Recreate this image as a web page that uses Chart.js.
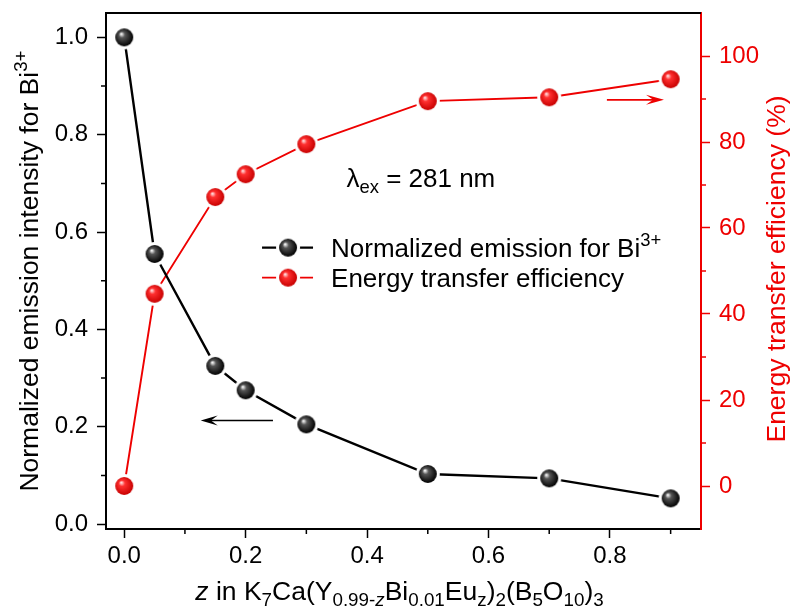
<!DOCTYPE html>
<html>
<head>
<meta charset="utf-8">
<script src="https://cdn.jsdelivr.net/npm/chart.js@4.4.1/dist/chart.umd.min.js"></script>
<style>
  html, body { margin: 0; padding: 0; background: #fff; }
</style>
</head>
<body>
<canvas id="chart" width="797" height="610"></canvas>
<script>
// Eu3+ content z and the two measured series
const zValues = [0, 0.05, 0.15, 0.2, 0.3, 0.5, 0.7, 0.9];
const biEmission = [1.0, 0.555, 0.325, 0.275, 0.205, 0.103, 0.094, 0.053];
const transferEff = [0, 44.7, 67.2, 72.5, 79.5, 89.5, 90.4, 94.6];

const xTicks = [0, 0.2, 0.4, 0.6, 0.8];
const xMinor = [0.1, 0.3, 0.5, 0.7, 0.9];
const leftTicks = [0, 0.2, 0.4, 0.6, 0.8, 1.0];
const leftMinor = [0.1, 0.3, 0.5, 0.7, 0.9];
const rightTicks = [0, 20, 40, 60, 80, 100];
const rightMinor = [10, 30, 50, 70, 90];

const RED = '#ee0000';
const FONT = '"Liberation Sans", Arial, sans-serif';

// shaded ball markers with a white halo so the lines stop short of them
function ball(light, mid, dark) {
  const c = document.createElement('canvas');
  c.width = c.height = 26;
  const g = c.getContext('2d');
  g.fillStyle = '#fff';
  g.beginPath(); g.arc(13, 13, 12, 0, Math.PI * 2); g.fill();
  const grad = g.createRadialGradient(10, 9.5, 0.3, 12.5, 12.5, 9.5);
  grad.addColorStop(0, light);
  grad.addColorStop(0.3, mid);
  grad.addColorStop(1, dark);
  g.fillStyle = grad;
  g.beginPath(); g.arc(13, 13, 9, 0, Math.PI * 2); g.fill();
  return c;
}
const blackBall = ball('#ffffff', '#555555', '#000000');
const redBall = ball('#ffe6e6', '#ff3030', '#c80000');

// text made of runs with sub/superscripts
function runFont(r, size) {
  const s = (r.sub || r.sup) ? size * 0.71 : size;
  return (r.it ? 'italic ' : '') + s + 'px ' + FONT;
}
function runsWidth(ctx, runs, size) {
  let w = 0;
  for (const r of runs) { ctx.font = runFont(r, size); w += ctx.measureText(r.t).width; }
  return w;
}
function drawRuns(ctx, runs, x, y, size) {
  ctx.textBaseline = 'alphabetic';
  ctx.textAlign = 'left';
  for (const r of runs) {
    ctx.font = runFont(r, size);
    const dy = r.sub ? size * 0.24 : (r.sup ? -size * 0.42 : 0);
    ctx.fillText(r.t, x, y + dy);
    x += ctx.measureText(r.t).width;
  }
}

const leftTitle = [{t: 'Normalized emission intensity for Bi'}, {t: '3+', sup: true}];
const rightTitle = [{t: 'Energy transfer efficiency (%)'}];
const xTitle = [
  {t: 'z', it: true}, {t: ' in K'}, {t: '7', sub: true}, {t: 'Ca(Y'},
  {t: '0.99-', sub: true}, {t: 'z', sub: true, it: true}, {t: 'Bi'}, {t: '0.01', sub: true},
  {t: 'Eu'}, {t: 'z', sub: true}, {t: ')'}, {t: '2', sub: true}, {t: '(B'}, {t: '5', sub: true},
  {t: 'O'}, {t: '10', sub: true}, {t: ')'}, {t: '3', sub: true}
];
const lambdaLabel = [{t: 'λ'}, {t: 'ex', sub: true}, {t: ' = 281 nm'}];
const legendItems = [
  {runs: [{t: 'Normalized emission for Bi'}, {t: '3+', sup: true}], color: '#000', width: 2.4, marker: blackBall},
  {runs: [{t: 'Energy transfer efficiency'}], color: RED, width: 1.8, marker: redBall}
];

function arrow(ctx, x1, y1, x2, y2, color, width, len, half) {
  const a = Math.atan2(y2 - y1, x2 - x1);
  const ca = Math.cos(a), sa = Math.sin(a);
  ctx.strokeStyle = color; ctx.fillStyle = color; ctx.lineWidth = width;
  ctx.beginPath();
  ctx.moveTo(x1, y1);
  ctx.lineTo(x2 - ca * len * 0.6, y2 - sa * len * 0.6);
  ctx.stroke();
  ctx.beginPath();
  ctx.moveTo(x2, y2);
  ctx.lineTo(x2 - ca * len - sa * half, y2 - sa * len + ca * half);
  ctx.lineTo(x2 - ca * len * 0.6, y2 - sa * len * 0.6);
  ctx.lineTo(x2 - ca * len + sa * half, y2 - sa * len - ca * half);
  ctx.closePath();
  ctx.fill();
}

const decorations = {
  id: 'decorations',
  afterDraw(chart) {
    const ctx = chart.ctx;
    const area = chart.chartArea;
    const sx = chart.scales.x, sl = chart.scales.yL, sr = chart.scales.yR;
    ctx.save();

    // top frame
    ctx.strokeStyle = '#000'; ctx.lineWidth = 2;
    ctx.beginPath(); ctx.moveTo(area.left - 1, area.top); ctx.lineTo(area.right, area.top); ctx.stroke();

    // minor ticks
    ctx.lineWidth = 1.5;
    ctx.beginPath();
    for (const v of xMinor) { const p = sx.getPixelForValue(v); ctx.moveTo(p, area.bottom); ctx.lineTo(p, area.bottom + 5); }
    for (const v of leftMinor) { const p = sl.getPixelForValue(v); ctx.moveTo(area.left, p); ctx.lineTo(area.left - 5, p); }
    ctx.stroke();
    ctx.strokeStyle = RED;
    ctx.beginPath();
    for (const v of rightMinor) { const p = sr.getPixelForValue(v); ctx.moveTo(area.right, p); ctx.lineTo(area.right + 5, p); }
    ctx.stroke();

    // axis titles
    const cy = (area.top + area.bottom) / 2;
    ctx.fillStyle = '#000';
    let w = runsWidth(ctx, leftTitle, 26.5);
    ctx.save(); ctx.translate(38, cy); ctx.rotate(-Math.PI / 2);
    drawRuns(ctx, leftTitle, -w / 2, 0, 26.5); ctx.restore();

    ctx.fillStyle = RED;
    w = runsWidth(ctx, rightTitle, 26.5);
    ctx.save(); ctx.translate(785, cy - 2); ctx.rotate(-Math.PI / 2);
    drawRuns(ctx, rightTitle, -w / 2, 0, 26.5); ctx.restore();

    ctx.fillStyle = '#000';
    w = runsWidth(ctx, xTitle, 26.5);
    drawRuns(ctx, xTitle, (area.left + area.right) / 2 - 4 - w / 2, 600, 26.5);

    // excitation wavelength note
    drawRuns(ctx, lambdaLabel, sx.getPixelForValue(0.366), sl.getPixelForValue(0.693), 26);

    // legend
    const lx = sx.getPixelForValue(0.227);
    let ly = sl.getPixelForValue(0.568);
    for (const item of legendItems) {
      ctx.strokeStyle = item.color; ctx.lineWidth = item.width;
      ctx.beginPath(); ctx.moveTo(lx, ly); ctx.lineTo(lx + 51, ly); ctx.stroke();
      ctx.drawImage(item.marker, lx + 26 - 13, ly - 13);
      ctx.fillStyle = '#000';
      drawRuns(ctx, item.runs, lx + 69, ly + 9.5, 26);
      ly += 30;
    }

    // arrows pointing to each series' axis
    const ay = sl.getPixelForValue(0.213);
    arrow(ctx, sx.getPixelForValue(0.245), ay, sx.getPixelForValue(0.126), ay, '#000', 1.5, 17, 5);
    const ry = sr.getPixelForValue(89.8);
    arrow(ctx, sx.getPixelForValue(0.795), ry, sx.getPixelForValue(0.889), ry, RED, 1.6, 18, 5);

    ctx.restore();
  }
};

function fixTicks(values) {
  return scale => { scale.ticks = values.map(v => ({value: v})); };
}
function fixSize(prop, size) {
  return scale => {
    scale[prop] = size;
    scale.paddingTop = 0; scale.paddingBottom = 0;
    scale.paddingLeft = 0; scale.paddingRight = 0;
  };
}

new Chart(document.getElementById('chart'), {
  type: 'line',
  data: {
    datasets: [
      {
        label: 'Normalized emission for Bi3+',
        data: zValues.map((z, i) => ({x: z, y: biEmission[i]})),
        yAxisID: 'yL',
        borderColor: '#000',
        borderWidth: 2.4,
        pointStyle: blackBall,
        pointRadius: 10,
        pointHoverRadius: 10
      },
      {
        label: 'Energy transfer efficiency',
        data: zValues.map((z, i) => ({x: z, y: transferEff[i]})),
        yAxisID: 'yR',
        borderColor: RED,
        borderWidth: 1.9,
        pointStyle: redBall,
        pointRadius: 10,
        pointHoverRadius: 10
      }
    ]
  },
  options: {
    responsive: false,
    animation: false,
    devicePixelRatio: 1,
    layout: {padding: {top: 13, left: 0, right: 0, bottom: 0}},
    plugins: {legend: {display: false}, tooltip: {enabled: false}},
    scales: {
      x: {
        type: 'linear', min: -0.03, max: 0.95,
        afterBuildTicks: fixTicks(xTicks),
        afterFit: fixSize('height', 81),
        grid: {drawOnChartArea: false, tickLength: 9, color: '#000', tickWidth: 1.5},
        border: {color: '#000', width: 2},
        ticks: {color: '#000', padding: 4, font: {family: FONT, size: 24}, callback: v => v.toFixed(1), autoSkip: false, maxRotation: 0}
      },
      yL: {
        type: 'linear', position: 'left', min: -0.01, max: 1.05,
        afterBuildTicks: fixTicks(leftTicks),
        afterFit: fixSize('width', 106),
        grid: {drawOnChartArea: false, tickLength: 9, color: '#000', tickWidth: 1.5},
        border: {color: '#000', width: 2},
        ticks: {color: '#000', padding: 9, font: {family: FONT, size: 24}, callback: v => v.toFixed(1)}
      },
      yR: {
        type: 'linear', position: 'right', min: -10, max: 110,
        afterBuildTicks: fixTicks(rightTicks),
        afterFit: fixSize('width', 96),
        grid: {drawOnChartArea: false, tickLength: 9, color: RED, tickWidth: 1.5},
        border: {color: RED, width: 2},
        ticks: {color: RED, padding: 9, font: {family: FONT, size: 24}, callback: v => String(v)}
      }
    }
  },
  plugins: [decorations]
});
</script>
</body>
</html>
